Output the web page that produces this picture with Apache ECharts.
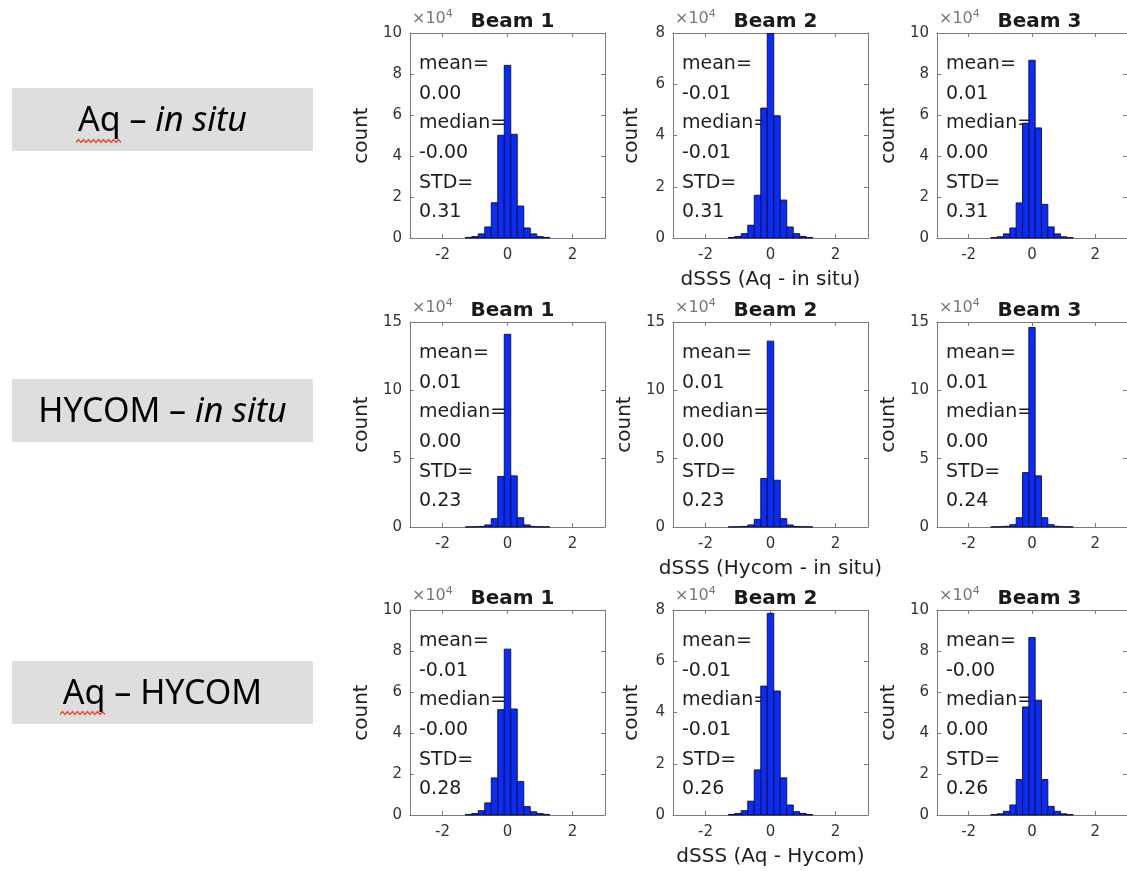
<!DOCTYPE html>
<html>
<head>
<meta charset="utf-8">
<script src="https://cdn.jsdelivr.net/npm/echarts@6/dist/echarts.min.js"></script>
<style>
html, body { margin: 0; background: #fff; }
#chart { width: 1127px; height: 871px; }
</style>
</head>
<body>
<div id="chart"></div>
<script>
// histogram bins (dSSS), counts in units of 1e4
var binCenters = [-1.2, -1.0, -0.8, -0.6, -0.4, -0.2, 0.0, 0.2, 0.4, 0.6, 0.8, 1.0, 1.2];
var binWidth = 0.2;

var aqInsitu1 = [0.03, 0.07, 0.20, 0.54, 1.72, 5.01, 8.42, 5.06, 1.56, 0.49, 0.20, 0.07, 0.03];
var aqInsitu2 = [0.02, 0.06, 0.17, 0.50, 1.67, 5.07, 7.98, 4.77, 1.48, 0.43, 0.17, 0.06, 0.02];
var aqInsitu3 = [0.02, 0.06, 0.20, 0.49, 1.71, 5.60, 8.67, 5.37, 1.64, 0.54, 0.20, 0.06, 0.02];
var hycomInsitu1 = [0.01, 0.02, 0.04, 0.15, 0.61, 3.70, 14.1, 3.74, 0.68, 0.15, 0.04, 0.02, 0.01];
var hycomInsitu2 = [0.01, 0.02, 0.04, 0.15, 0.56, 3.55, 13.6, 3.42, 0.61, 0.15, 0.04, 0.02, 0.01];
var hycomInsitu3 = [0.01, 0.02, 0.05, 0.17, 0.68, 3.98, 14.6, 3.74, 0.68, 0.17, 0.05, 0.02, 0.01];
var aqHycom1 = [0.03, 0.07, 0.21, 0.59, 1.81, 5.14, 8.09, 5.17, 1.63, 0.41, 0.16, 0.07, 0.03];
var aqHycom2 = [0.02, 0.06, 0.17, 0.54, 1.76, 5.03, 7.87, 4.84, 1.45, 0.39, 0.13, 0.06, 0.02];
var aqHycom3 = [0.02, 0.06, 0.18, 0.49, 1.73, 5.27, 8.66, 5.60, 1.73, 0.42, 0.18, 0.06, 0.02];

var meanText   = [['0.00', '-0.01', '0.01'], ['0.01', '0.01', '0.01'], ['-0.01', '-0.01', '-0.00']];
var medianText = [['-0.00', '-0.01', '0.00'], ['0.00', '0.00', '0.00'], ['-0.00', '-0.01', '0.00']];
var stdText    = [['0.31', '0.31', '0.31'], ['0.23', '0.23', '0.24'], ['0.28', '0.26', '0.26']];

var yMax = [[10, 8, 10], [15, 15, 15], [10, 8, 10]];
var yStep = [[2, 2, 2], [5, 5, 5], [2, 2, 2]];
var xTicks = [-2, 0, 2];
var beamNames = ['Beam 1', 'Beam 2', 'Beam 3'];
var xNames = ['dSSS (Aq - in situ)', 'dSSS (Hycom - in situ)', 'dSSS (Aq - Hycom)'];

var counts = [
    [aqInsitu1, aqInsitu2, aqInsitu3],
    [hycomInsitu1, hycomInsitu2, hycomInsitu3],
    [aqHycom1, aqHycom2, aqHycom3]
];

var colLeft = [410, 673, 937];
var rowTop = [33, 322, 610];
var plotW = 195, plotH = 205;
var boxTop = [88, 379, 661];

var grids = [], xAxes = [], yAxes = [], series = [], titles = [], graphics = [];
var lineCol = '#7a7a7a', labCol = '#333', txtCol = '#1e1e1e';
var font = 'DejaVu Sans';

for (var r = 0; r < 3; r++) {
    for (var c = 0; c < 3; c++) {
        var i = r * 3 + c;
        var L = colLeft[c], T = rowTop[r];
        grids.push({left: L, top: T, width: plotW, height: plotH});

        xAxes.push({
            type: 'value', gridIndex: i, min: -3, max: 3, position: 'bottom',
            name: c === 1 ? xNames[r] : '', nameLocation: 'middle', nameGap: 32,
            nameTextStyle: {fontFamily: font, fontSize: 20, color: txtCol},
            axisLine: {show: true, onZero: false, lineStyle: {color: lineCol}},
            axisTick: {inside: true, length: 4, lineStyle: {color: lineCol}, customValues: xTicks},
            axisLabel: {fontFamily: font, fontSize: 15, color: labCol, margin: 10, customValues: xTicks},
            splitLine: {show: false}
        });
        xAxes.push({
            type: 'value', gridIndex: i, min: -3, max: 3, position: 'top',
            axisLine: {show: true, onZero: false, lineStyle: {color: lineCol}},
            axisTick: {inside: true, length: 4, lineStyle: {color: lineCol}, customValues: xTicks},
            axisLabel: {show: false}, splitLine: {show: false}
        });
        var twoDigit = yMax[r][c] >= 10;
        yAxes.push({
            type: 'value', gridIndex: i, min: 0, max: yMax[r][c], interval: yStep[r][c], position: 'left',
            name: 'count', nameLocation: 'middle', nameRotate: 90, nameGap: twoDigit ? 38 : 31,
            nameTextStyle: {fontFamily: font, fontSize: 20, color: txtCol},
            axisLine: {show: true, onZero: false, lineStyle: {color: lineCol}},
            axisTick: {inside: true, length: 4, lineStyle: {color: lineCol}},
            axisLabel: {fontFamily: font, fontSize: 15, color: labCol, margin: 8},
            splitLine: {show: false}
        });
        yAxes.push({
            type: 'value', gridIndex: i, min: 0, max: yMax[r][c], interval: yStep[r][c], position: 'right',
            axisLine: {show: true, onZero: false, lineStyle: {color: lineCol}},
            axisTick: {inside: true, length: 4, lineStyle: {color: lineCol}},
            axisLabel: {show: false}, splitLine: {show: false}
        });

        series.push({
            type: 'custom', xAxisIndex: 2 * i, yAxisIndex: 2 * i,
            data: binCenters.map(function (x, k) { return [x, this[k]]; }, counts[r][c]),
            renderItem: function (params, api) {
                var x = api.value(0), h = api.value(1);
                var p0 = api.coord([x - binWidth / 2, h]);
                var p1 = api.coord([x + binWidth / 2, 0]);
                return {
                    type: 'rect',
                    shape: {x: p0[0], y: p0[1], width: p1[0] - p0[0], height: p1[1] - p0[1]},
                    style: {fill: '#0b2cf2', stroke: '#0a0a3a', lineWidth: 0.9}
                };
            }
        });

        titles.push({
            text: beamNames[c], left: L + plotW / 2, top: T - 26, textAlign: 'center',
            textStyle: {fontFamily: font, fontSize: 20, fontWeight: 'bold', color: '#1a1a1a'}
        });

        graphics.push({
            type: 'text', left: L + 2, top: T - 24,
            style: {
                text: '×10{s|4}', fontFamily: font, fontSize: 16, fill: '#777',
                rich: {s: {fontFamily: font, fontSize: 11, fill: '#777', verticalAlign: 'top', padding: [0, 0, 9, 0]}}
            }
        });

        var lines = ['mean=', meanText[r][c], 'median=', medianText[r][c], 'STD=', stdText[r][c]];
        for (var k = 0; k < lines.length; k++) {
            graphics.push({
                type: 'text', x: L + 9, y: T + 31 + k * 29.7,
                style: {text: lines[k], fontFamily: font, fontSize: 19, fill: txtCol, verticalAlign: 'middle'}
            });
        }
    }
}

// row labels on the left
var rowLabels = [
    '{n|Aq – }{i|in situ}',
    '{n|HYCOM – }{i|in situ}',
    '{n|Aq – HYCOM}'
];
for (var r2 = 0; r2 < 3; r2++) {
    graphics.push({
        type: 'rect', shape: {x: 12, y: boxTop[r2], width: 301, height: 63},
        style: {fill: '#dedede'}
    });
    graphics.push({
        type: 'text', x: 162.5, y: boxTop[r2] + 33,
        style: {
            text: rowLabels[r2], align: 'center', verticalAlign: 'middle',
            rich: {
                n: {fontFamily: 'Noto Sans', fontSize: 34, fill: '#000'},
                i: {fontFamily: 'Noto Sans', fontSize: 34, fontStyle: 'italic', fill: '#000'}
            }
        }
    });
}

// red spell-check squiggles under "Aq"
function squiggle(x0, x1, y) {
    var pts = [];
    for (var x = x0, up = 0; x <= x1; x += 2.5, up = 1 - up) pts.push([x, y + (up ? -1.5 : 1.5)]);
    return {type: 'polyline', shape: {points: pts}, style: {stroke: '#e8452c', lineWidth: 1.2, fill: null}};
}
graphics.push(squiggle(76, 121, 141));
graphics.push(squiggle(60, 107, 713));

var chart = echarts.init(document.getElementById('chart'));
chart.setOption({
    backgroundColor: '#fff',
    animation: false,
    title: titles,
    grid: grids,
    xAxis: xAxes,
    yAxis: yAxes,
    series: series,
    graphic: graphics
});
</script>
</body>
</html>
